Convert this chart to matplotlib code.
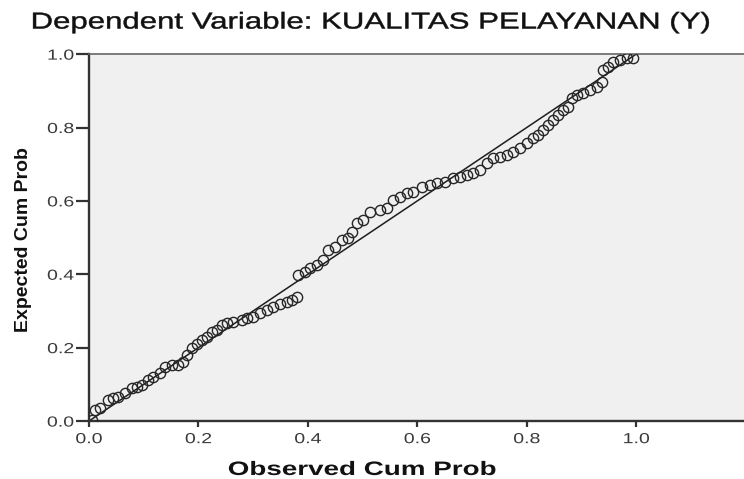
import matplotlib
matplotlib.use("Agg")
import matplotlib.pyplot as plt
from matplotlib.patheffects import AbstractPathEffect
from matplotlib.transforms import Affine2D

# P-P plot values
observed = [0.005, 0.011, 0.020, 0.035, 0.044, 0.053, 0.066, 0.079, 0.088, 0.097,
            0.108, 0.117, 0.130, 0.139, 0.152, 0.163, 0.172, 0.179, 0.188, 0.197,
            0.207, 0.215, 0.225, 0.234, 0.243, 0.252, 0.263, 0.279, 0.289, 0.300,
            0.313, 0.325, 0.336, 0.349, 0.361, 0.371, 0.380, 0.382, 0.395, 0.404,
            0.417, 0.428, 0.437, 0.450, 0.463, 0.474, 0.480, 0.490, 0.500, 0.514,
            0.532, 0.545, 0.556, 0.569, 0.581, 0.592, 0.609, 0.623, 0.636, 0.651,
            0.665, 0.678, 0.691, 0.702, 0.715, 0.728, 0.739, 0.751, 0.764, 0.775,
            0.788, 0.801, 0.812, 0.821, 0.830, 0.839, 0.848, 0.857, 0.867, 0.876,
            0.883, 0.892, 0.903, 0.916, 0.929, 0.938, 0.940, 0.949, 0.958, 0.971,
            0.984, 0.995]
expected = [0.003, 0.030, 0.035, 0.057, 0.063, 0.065, 0.076, 0.090, 0.093, 0.098,
            0.112, 0.120, 0.130, 0.147, 0.153, 0.153, 0.161, 0.180, 0.200, 0.210,
            0.220, 0.229, 0.243, 0.248, 0.262, 0.267, 0.270, 0.275, 0.280, 0.283,
            0.294, 0.302, 0.310, 0.320, 0.325, 0.330, 0.338, 0.398, 0.406, 0.417,
            0.425, 0.439, 0.466, 0.474, 0.493, 0.499, 0.516, 0.540, 0.548, 0.570,
            0.575, 0.580, 0.602, 0.610, 0.621, 0.624, 0.638, 0.643, 0.649, 0.651,
            0.662, 0.665, 0.670, 0.676, 0.684, 0.703, 0.717, 0.719, 0.725, 0.733,
            0.744, 0.757, 0.771, 0.779, 0.793, 0.807, 0.820, 0.834, 0.847, 0.856,
            0.880, 0.888, 0.894, 0.902, 0.910, 0.924, 0.956, 0.965, 0.978, 0.984,
            0.989, 0.989]
ref_line = [0.0, 1.0]
ticks = [0.0, 0.2, 0.4, 0.6, 0.8, 1.0]
tick_labels = ["0.0", "0.2", "0.4", "0.6", "0.8", "1.0"]


class HStretch(AbstractPathEffect):
    # widen the glyphs like the stretched SPSS export
    def __init__(self, sx, anchor="center", stroke=0.0):
        super().__init__()
        self.sx = sx
        self.anchor = anchor
        self.stroke = stroke

    def draw_path(self, renderer, gc, tpath, affine, rgbFace=None):
        xs = tpath.vertices[:, 0]
        if self.anchor == "right":
            cx = xs.max()
        else:
            cx = 0.5 * (xs.min() + xs.max())
        t = Affine2D().translate(-cx, 0).scale(self.sx, 1).translate(cx, 0) + affine
        gc0 = renderer.new_gc()
        gc0.copy_properties(gc)
        if self.stroke:
            gc0.set_linewidth(self.stroke)
        renderer.draw_path(gc0, tpath, t, rgbFace)
        gc0.restore()


fig = plt.figure(figsize=(7.44, 4.79), dpi=100)
ax = fig.add_axes([0.1196, 0.121, 0.8804, 0.766])
ax.set_facecolor("#f0f0f0")

ax.plot(ref_line, ref_line, color="#1e1e1e", lw=1.1, zorder=2)
ax.plot(observed, expected, linestyle="", marker="o", ms=7.4,
        mfc="none", mec="#262626", mew=1.0, zorder=3)

ax.set_xlim(0, 1.197)
ax.set_ylim(0, 1.0)
ax.set_xticks(ticks)
xl = ax.set_xticklabels(tick_labels, family="Liberation Sans", fontsize=10.5)
ax.set_yticks(ticks)
yl = ax.set_yticklabels(tick_labels, family="Liberation Sans", fontsize=10.5)
for t in xl:
    t.set_path_effects([HStretch(1.34)])
for t in yl:
    t.set_path_effects([HStretch(1.34, anchor="right")])
ax.tick_params(axis="x", direction="out", length=4.5, width=1.6, color="#333333",
               labelcolor="#3a3a3a", pad=3.5)
ax.tick_params(axis="y", direction="out", length=9.5, width=1.6, color="#333333",
               labelcolor="#3a3a3a", pad=1.2)

for side in ["left", "bottom"]:
    ax.spines[side].set_color("#333333")
    ax.spines[side].set_linewidth(1.7)
ax.spines["top"].set_color("#666666")
ax.spines["top"].set_linewidth(1.2)
ax.spines["right"].set_visible(False)

fig.text(0.4866, 0.0084, "Observed Cum Prob", ha="center", va="baseline",
         fontsize=14, fontweight="bold", family="Liberation Sans", color="#111111",
         path_effects=[HStretch(1.43)])
fig.text(0.032, 0.50, "Expected Cum Prob", ha="center", va="center", rotation=90,
         fontsize=14, fontweight="bold", family="Liberation Sans", color="#111111")
fig.text(0.497, 0.954, "Dependent Variable: KUALITAS PELAYANAN (Y)",
         ha="center", va="center", fontsize=16.5, family="Liberation Sans",
         color="#111111", path_effects=[HStretch(1.36, stroke=0.35)])

fig.savefig("out.png", dpi=100)
